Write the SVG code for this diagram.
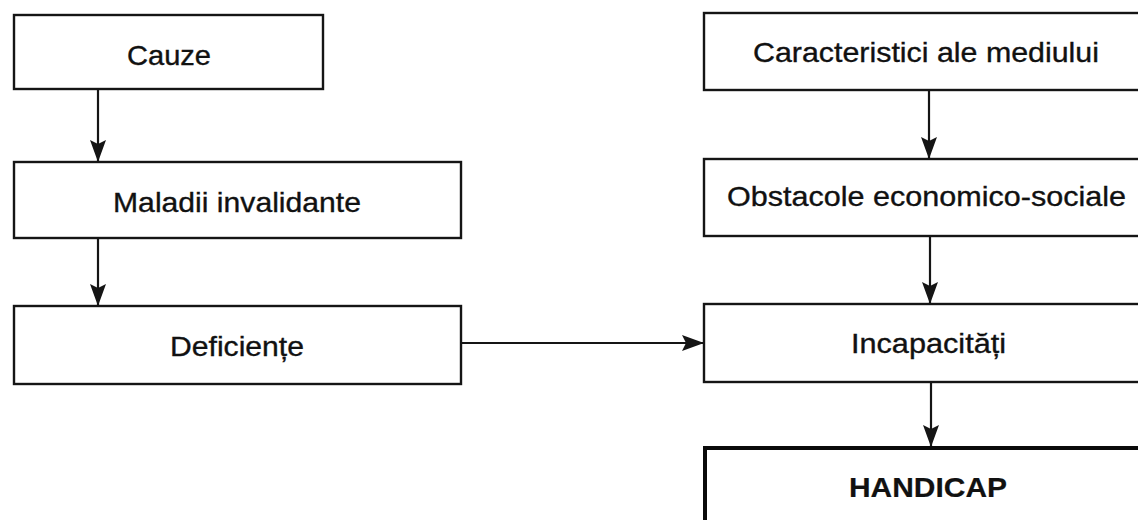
<svg xmlns="http://www.w3.org/2000/svg" width="1138" height="520" viewBox="0 0 1138 520">
  <defs>
    <style>
      .box { fill: #ffffff; stroke: #151515; stroke-width: 2.4; }
      .box-strong { fill: #ffffff; stroke: #0a0a0a; stroke-width: 4; }
      .label { font-family: "Liberation Sans", Arial, sans-serif; font-size: 28px; fill: #111111; stroke: #111111; stroke-width: 0.35; text-anchor: middle; }
      .label-bold { font-weight: bold; stroke-width: 0.2; }
      .link { fill: none; stroke: #151515; stroke-width: 2.2; }
    </style>
    <marker id="arrow" viewBox="0 0 22 16" refX="22" refY="8" markerWidth="22" markerHeight="16" markerUnits="userSpaceOnUse" orient="auto">
      <path d="M0,0 L22,8 L0,16 L4,8 Z" fill="#151515"/>
    </marker>
  </defs>
  <rect width="1138" height="520" fill="#ffffff"/>

  <!-- connectors -->
  <g id="connectors">
    <line class="link" x1="98" y1="89" x2="98" y2="162" marker-end="url(#arrow)"/>
    <line class="link" x1="98" y1="238" x2="98" y2="306" marker-end="url(#arrow)"/>
    <line class="link" x1="461" y1="343" x2="704" y2="343" marker-end="url(#arrow)"/>
    <line class="link" x1="929" y1="90" x2="929" y2="159" marker-end="url(#arrow)"/>
    <line class="link" x1="930" y1="236" x2="930" y2="304" marker-end="url(#arrow)"/>
    <line class="link" x1="931" y1="382" x2="931" y2="447" marker-end="url(#arrow)"/>
  </g>

  <!-- left column -->
  <g id="node-cauze">
    <rect class="box" x="14" y="15" width="309" height="74"/>
    <text class="label" x="169" y="65" textLength="84" lengthAdjust="spacingAndGlyphs">Cauze</text>
  </g>
  <g id="node-maladii">
    <rect class="box" x="14" y="162" width="447" height="76"/>
    <text class="label" x="237" y="212" textLength="248" lengthAdjust="spacingAndGlyphs">Maladii invalidante</text>
  </g>
  <g id="node-deficiente">
    <rect class="box" x="14" y="306" width="447" height="78"/>
    <text class="label" x="237" y="356" textLength="134" lengthAdjust="spacingAndGlyphs">Deficiențe</text>
  </g>

  <!-- right column -->
  <g id="node-mediu">
    <rect class="box" x="704" y="13" width="446" height="77"/>
    <text class="label" x="926" y="62" textLength="346" lengthAdjust="spacingAndGlyphs">Caracteristici ale mediului</text>
  </g>
  <g id="node-obstacole">
    <rect class="box" x="704" y="159" width="446" height="77"/>
    <text class="label" x="926.5" y="206" textLength="399" lengthAdjust="spacingAndGlyphs">Obstacole economico-sociale</text>
  </g>
  <g id="node-incapacitati">
    <rect class="box" x="704" y="304" width="446" height="78"/>
    <text class="label" x="928.5" y="353" textLength="155" lengthAdjust="spacingAndGlyphs">Incapacități</text>
  </g>
  <g id="node-handicap">
    <rect class="box-strong" x="705" y="448" width="446" height="90"/>
    <text class="label label-bold" x="928" y="497" textLength="158" lengthAdjust="spacingAndGlyphs">HANDICAP</text>
  </g>
</svg>
